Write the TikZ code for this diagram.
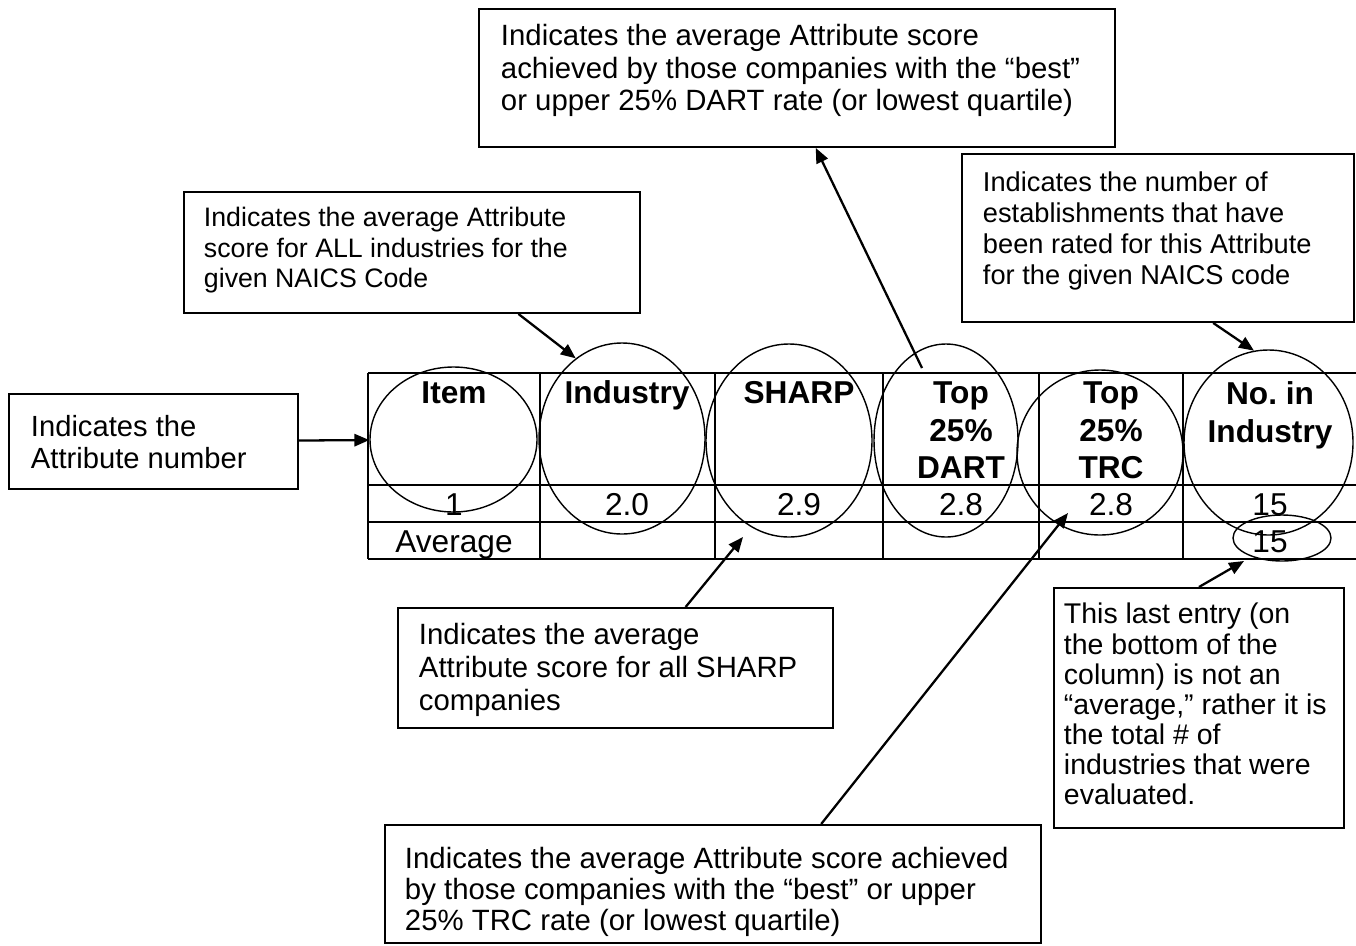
\documentclass[tikz,border=0pt]{standalone}
\usepackage{fontspec}
\setmainfont{Liberation Sans}
\usetikzlibrary{shapes.geometric,arrows.meta}

\begin{document}
\begin{tikzpicture}[
    x=0.2mm, y=-0.2mm,
    note/.style={draw, line width=1.1pt, anchor=north west, inner ysep=0pt},
    ring/.style={ellipse, draw, line width=0.8pt, inner sep=0pt},
    grid/.style={line width=1.1pt},
    hdr/.style={font=\fontsize{18}{21.3}\bfseries\selectfont, align=center, anchor=north, inner sep=0pt,
                execute at begin node=\rule{0pt}{14pt}},
    cell/.style={font=\fontsize{18}{21}\selectfont, anchor=base, inner sep=0pt},
    arr/.style={-{Triangle[length=8.5pt,width=7pt]}, line width=1.3pt}
]
\useasboundingbox (0,0) rectangle (1356,945);

% table
\foreach \r in {373,485,522,559} { \draw[grid] (368,\r) -- (1362,\r); }
\foreach \c in {368,540,715,883,1039,1183} { \draw[grid] (\c,373) -- (\c,559); }

\node[hdr] (hitem) at (454,378.5) {Item};
\node[hdr] (hind)  at (627,378.5) {Industry};
\node[hdr] (hsharp) at (799,378.5) {SHARP};
\node[hdr] (hdart) at (961,381.5) {Top\\25\%\\DART};
\node[hdr] (htrc)  at (1111,381.5) {Top\\25\%\\TRC};
\node[hdr] (hnin)  at (1270,381.5) {No.\ in\\Industry};

\node[cell] (vitem) at (454,515) {1};
\node[cell] (vind)  at (627,515) {2.0};
\node[cell] (vsharp) at (799,515) {2.9};
\node[cell] (vdart) at (961,515) {2.8};
\node[cell] (vtrc)  at (1111,515) {2.8};
\node[cell] (vnin)  at (1270,515) {15};
\node[cell] (avg)   at (454,552) {Average};
\node[cell] (avgnin) at (1270,552) {15};

% circled columns
\node[ring, minimum width=33.4mm, minimum height=29mm] (itemell) at (453.5,439.5) {};
\node[ring, minimum width=33.2mm, minimum height=38.2mm] (indell) at (622,438.5) {};
\node[ring, minimum width=33.2mm, minimum height=38.6mm] (sharpell) at (789,440.5) {};
\node[ring, minimum width=28.8mm, minimum height=38.6mm] (dartell) at (946,440.5) {};
\node[ring, minimum width=33.2mm, minimum height=33mm] (trcell) at (1100,452.5) {};
\node[ring, minimum width=33.8mm, minimum height=37mm] (ninell) at (1268.5,442.5) {};
\node[ring, minimum width=19.6mm, minimum height=9.2mm] (totell) at (1282,538) {};

% notes
\node[note, inner xsep=4.4mm] (attrnote) at (8,393)
  {\parbox[t][19mm][t]{49mm}{\fontsize{16.6}{18.2}\selectfont\rule{0pt}{8.6mm}Indicates the\\Attribute number}};
\node[note, inner xsep=4mm] (allnote) at (183,191)
  {\parbox[t][24.2mm][t]{83.2mm}{\fontsize{15.2}{17.1}\selectfont\rule{0pt}{7mm}Indicates the average Attribute\\score for ALL industries for the\\given NAICS Code}};
\node[note, inner xsep=4.4mm] (dartnote) at (478,8)
  {\parbox[t][27.6mm][t]{118.4mm}{\fontsize{16.7}{18.5}\selectfont\rule{0pt}{7.4mm}Indicates the average Attribute score\\achieved by those companies with the “best”\\or upper 25\% DART rate (or lowest quartile)}};
\node[note, inner xsep=4.2mm] (numnote) at (961,153)
  {\parbox[t][33.6mm][t]{70mm}{\fontsize{15.5}{17.5}\selectfont\rule{0pt}{7.6mm}Indicates the number of\\establishments that have\\been rated for this Attribute\\for the given NAICS code}};
\node[note, inner xsep=4.2mm] (sharpnote) at (397,607)
  {\parbox[t][24mm][t]{78.6mm}{\fontsize{16.7}{18.5}\selectfont\rule{0pt}{7.4mm}Indicates the average\\Attribute score for all SHARP\\companies}};
\node[note, inner xsep=2mm] (lastnote) at (1053,587)
  {\parbox[t][48mm][t]{54mm}{\fontsize{16.2}{17.1}\selectfont\rule{0pt}{7.2mm}This last entry (on\\the bottom of the\\column) is not an\\“average,” rather it is\\the total \# of\\industries that were\\evaluated.}};
\node[note, inner xsep=4mm] (trcnote) at (384,824)
  {\parbox[t][23.6mm][t]{123.2mm}{\fontsize{16.7}{17.6}\selectfont\rule{0pt}{8.8mm}Indicates the average Attribute score achieved\\by those companies with the “best” or upper\\25\% TRC rate (or lowest quartile)}};

\coordinate (dartfoot) at (922,368);
\coordinate (sharpavg) at (743,537);
\coordinate (trcval) at (1068,513);
\coordinate (lasttip) at (1244,561);

% pointers
\draw[arr] (attrnote) -- (itemell);
\draw[arr] (allnote.330.5) -- (indell.120);
\draw[arr] (dartfoot) -- (dartnote.285.4);
\draw[arr] (numnote.303.2) -- (ninell.99);
\draw[arr] (sharpnote.41.6) -- (sharpavg);
\draw[arr] (trcnote.29.1) -- (trcval);
\draw[arr] (lastnote.north) -- (lasttip);
\end{tikzpicture}
\end{document}
